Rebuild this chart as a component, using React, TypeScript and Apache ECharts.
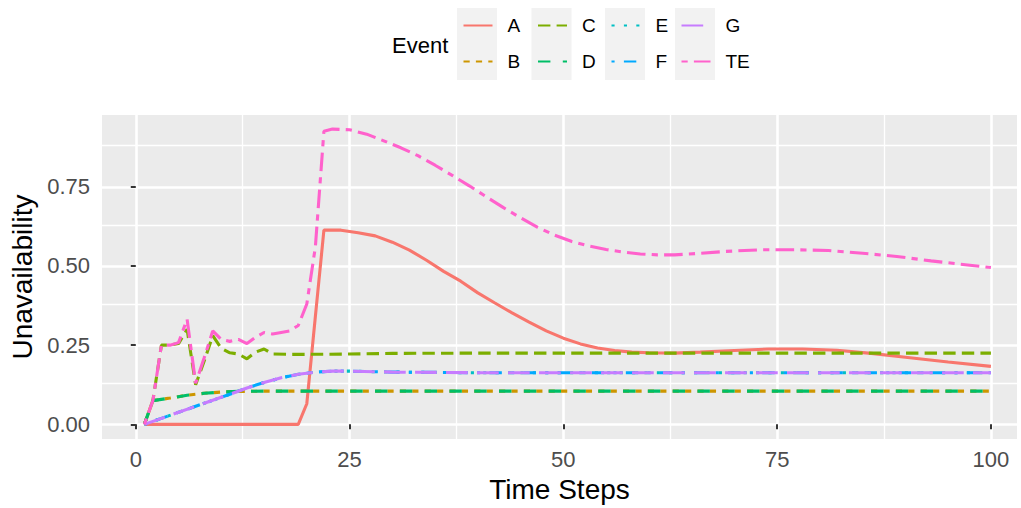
import React, { useEffect, useRef } from "react";
import * as echarts from "echarts";

// ---- data (time step, unavailability) ----
const seriesNames = ["A", "B", "C", "D", "E", "F", "G", "TE"];
const seriesColors = ["#F8766D", "#CD9600", "#7CAE00", "#00BE67", "#00BFC4", "#00A9FF", "#C77CFF", "#FF61CC"];

const dataA: [number, number][] = [
  [1, 0], [19, 0], [20, 0.065], [21, 0.34], [22, 0.613], [24, 0.613], [26, 0.605], [28, 0.595],
  [30, 0.575], [32, 0.55], [34, 0.518], [36, 0.483], [38, 0.452], [40, 0.415], [42, 0.383],
  [44, 0.352], [46, 0.323], [48, 0.295], [50, 0.272], [52, 0.254], [54, 0.241], [56, 0.233],
  [58, 0.228], [60, 0.226], [63, 0.225], [66, 0.228], [70, 0.233], [74, 0.238], [78, 0.238],
  [82, 0.234], [86, 0.224], [90, 0.212], [95, 0.197], [100, 0.183],
];
const dataB: [number, number][] = [
  [1, 0], [2, 0.075], [4, 0.083], [6, 0.092], [8, 0.098], [10, 0.102], [12, 0.104], [15, 0.105], [100, 0.105],
];
const dataC: [number, number][] = [
  [1, 0], [2, 0.075], [3, 0.25], [4, 0.25], [5, 0.255], [6, 0.3], [7, 0.125], [8, 0.2], [9, 0.28],
  [10, 0.24], [11, 0.226], [12, 0.222], [13, 0.207], [14, 0.228], [15, 0.238], [16, 0.222],
  [18, 0.221], [20, 0.221], [25, 0.222], [30, 0.224], [40, 0.225], [100, 0.225],
];
const dataD: [number, number][] = [
  [1, 0], [2, 0.075], [4, 0.083], [6, 0.092], [8, 0.098], [10, 0.102], [12, 0.104], [15, 0.105], [100, 0.105],
];
const dataE: [number, number][] = [
  [1, 0], [3, 0.019], [5, 0.038], [7, 0.057], [9, 0.076], [11, 0.095], [13, 0.115], [15, 0.132],
  [17, 0.147], [19, 0.158], [21, 0.165], [23, 0.168], [25, 0.168], [30, 0.165], [40, 0.163], [100, 0.163],
];
const dataF: [number, number][] = [
  [1, 0], [3, 0.019], [5, 0.038], [7, 0.057], [9, 0.076], [11, 0.095], [13, 0.115], [15, 0.132],
  [17, 0.147], [19, 0.158], [21, 0.165], [23, 0.168], [25, 0.168], [30, 0.165], [40, 0.163], [100, 0.163],
];
const dataG: [number, number][] = [
  [1, 0], [3, 0.019], [5, 0.038], [7, 0.057], [9, 0.076], [11, 0.095], [13, 0.115], [15, 0.132],
  [17, 0.147], [19, 0.158], [21, 0.165], [23, 0.168], [25, 0.168], [30, 0.165], [40, 0.163], [100, 0.163],
];
const dataTE: [number, number][] = [
  [1, 0], [2, 0.075], [3, 0.25], [4, 0.25], [5, 0.258], [6, 0.332], [7, 0.13], [8, 0.21], [9, 0.295],
  [10, 0.268], [11, 0.262], [12, 0.268], [13, 0.255], [14, 0.275], [15, 0.29], [16, 0.285], [17, 0.29],
  [18, 0.295], [19, 0.312], [20, 0.38], [21, 0.56], [22, 0.925], [23, 0.932], [25, 0.93], [27, 0.916],
  [29, 0.895], [31, 0.873], [33, 0.848], [35, 0.818], [37, 0.786], [39, 0.753], [41, 0.718],
  [43, 0.684], [45, 0.652], [47, 0.622], [49, 0.597], [51, 0.577], [53, 0.563], [55, 0.552],
  [57, 0.544], [59, 0.538], [61, 0.535], [63, 0.535], [66, 0.54], [69, 0.546], [73, 0.551],
  [77, 0.551], [81, 0.549], [85, 0.54], [89, 0.53], [93, 0.516], [97, 0.504], [100, 0.495],
];
const seriesData = [dataA, dataB, dataC, dataD, dataE, dataF, dataG, dataTE];

const xTicks = [0, 25, 50, 75, 100];
const xMinor = [12.5, 37.5, 62.5, 87.5];
const yTicks = [0, 0.25, 0.5, 0.75];
const yMinor = [0.125, 0.375, 0.625, 0.875];

const legendColumns = [["A", "B"], ["C", "D"], ["E", "F"], ["G", "TE"]];

const LW = 3.1;
const dashes: any[] = [
  "solid",
  [2 * LW, 2 * LW],
  [4 * LW, 2 * LW],
  [4 * LW, 4 * LW],
  [1 * LW, 3 * LW],
  [1 * LW, 3 * LW, 4 * LW, 3 * LW],
  [7 * LW, 3 * LW],
  [2 * LW, 2 * LW, 6 * LW, 2 * LW],
];

const FONT = "Liberation Sans, Arial, Helvetica, sans-serif";

export default function App() {
  const ref = useRef<HTMLDivElement>(null);
  useEffect(() => {
    if (!ref.current) return;
    const chart = echarts.init(ref.current, undefined, { renderer: "svg" });

    const keyLeft = [457, 531.5, 605, 675];
    const rowCenter = [26, 62];

    const legends: any[] = [];
    legendColumns.forEach((col, ci) => {
      col.forEach((name, ri) => {
        legends.push({
          show: true,
          data: [name],
          left: keyLeft[ci] + 5.5,
          top: rowCenter[ri] - 10,
          orient: "horizontal",
          padding: 0,
          itemWidth: 29,
          itemHeight: 20,
          selectedMode: false,
          itemStyle: { opacity: 0 },
          textStyle: { fontSize: 19, color: "#000", fontFamily: FONT, padding: [0, 0, 0, 10] },
        });
      });
    });

    const gridLines = [
      ...xTicks.map((v) => ({ xAxis: v, lineStyle: { width: 2.6 } })),
      ...xMinor.map((v) => ({ xAxis: v, lineStyle: { width: 1.3 } })),
      ...yTicks.map((v) => ({ yAxis: v, lineStyle: { width: 2.6 } })),
      ...yMinor.map((v) => ({ yAxis: v, lineStyle: { width: 1.3 } })),
    ];

    const option: any = {
      animation: false,
      backgroundColor: "#FFFFFF",
      textStyle: { fontFamily: FONT },
      grid: {
        left: 102,
        right: 4,
        top: 115,
        bottom: 66,
        show: true,
        backgroundColor: "#EBEBEB",
        borderWidth: 0,
      },
      xAxis: {
        type: "value",
        min: -3.95,
        max: 103.05,
        name: "Time Steps",
        nameLocation: "middle",
        nameGap: 35,
        nameTextStyle: { fontSize: 28, color: "#000", fontFamily: FONT },
        axisLine: { show: false },
        splitLine: { show: false },
        axisTick: { show: true, length: 5, customValues: xTicks, lineStyle: { color: "#333333", width: 2 } },
        axisLabel: { customValues: xTicks, fontSize: 22, color: "#4D4D4D", margin: 9, fontFamily: FONT },
      },
      yAxis: {
        type: "value",
        min: -0.0465,
        max: 0.9765,
        name: "Unavailability",
        nameLocation: "middle",
        nameRotate: 90,
        nameGap: 62,
        nameTextStyle: { fontSize: 28, color: "#000", fontFamily: FONT },
        axisLine: { show: false },
        splitLine: { show: false },
        axisTick: { show: true, length: 5, customValues: yTicks, lineStyle: { color: "#333333", width: 2 } },
        axisLabel: {
          customValues: yTicks,
          fontSize: 22,
          color: "#4D4D4D",
          margin: 12,
          fontFamily: FONT,
          formatter: (v: number) => v.toFixed(2),
        },
      },
      legend: legends,
      graphic: [
        ...keyLeft.map((x) => ({
          type: "rect",
          shape: { x, y: 8, width: 40, height: 72 },
          style: { fill: "#F2F2F2" },
          z: 0,
        })),
        {
          type: "text",
          x: 392,
          y: 45,
          style: { text: "Event", fontSize: 22, fontFamily: FONT, fill: "#000", verticalAlign: "middle", align: "left" },
        },
      ],
      series: [
        {
          name: "_grid",
          type: "line",
          data: [],
          z: 0,
          silent: true,
          markLine: {
            z: 0,
            silent: true,
            symbol: ["none", "none"],
            label: { show: false },
            animation: false,
            lineStyle: { color: "#FFFFFF", type: "solid", width: 2.6 },
            data: gridLines,
          },
        },
        ...seriesNames.map((name, i) => ({
          name,
          type: "line",
          data: seriesData[i],
          symbol: "none",
          showSymbol: false,
          smooth: false,
          z: 2 + i * 0.01,
          color: seriesColors[i],
          lineStyle: { color: seriesColors[i], width: LW, type: dashes[i], cap: "butt" },
        })),
      ],
    };
    chart.setOption(option);
    return () => chart.dispose();
  }, []);

  return (
    <div
      ref={ref}
      style={{ position: "fixed", left: 0, top: 0, width: "1021px", height: "508px", background: "#fff" }}
    />
  );
}
